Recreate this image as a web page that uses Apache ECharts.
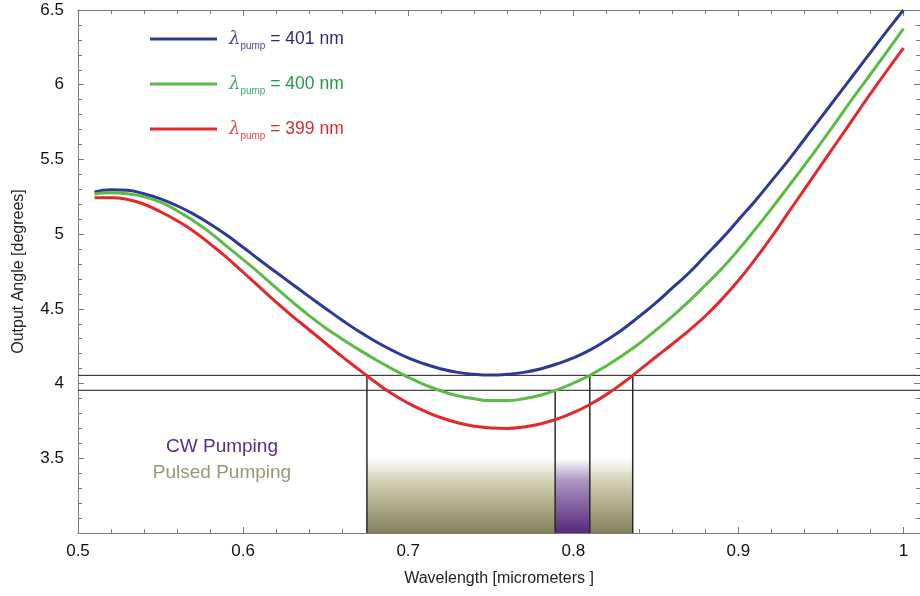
<!DOCTYPE html>
<html>
<head>
<meta charset="utf-8">
<script src="https://cdn.jsdelivr.net/npm/echarts@6/dist/echarts.min.js"></script>
<style>
  html, body { margin: 0; padding: 0; background: #fff; }
  #main { width: 920px; height: 596px; }
</style>
</head>
<body>
<div id="main"></div>
<script>
// wavelength (micrometers)
const wavelength = [0.51, 0.52, 0.53, 0.54, 0.55, 0.56, 0.57, 0.58, 0.59, 0.60,
  0.61, 0.62, 0.63, 0.64, 0.65, 0.66, 0.67, 0.68, 0.69, 0.70,
  0.71, 0.72, 0.73, 0.74, 0.75, 0.76, 0.77, 0.78, 0.79, 0.80,
  0.81, 0.82, 0.83, 0.84, 0.85, 0.86, 0.87, 0.88, 0.89, 0.90,
  0.91, 0.92, 0.93, 0.94, 0.95, 0.96, 0.97, 0.98, 0.99, 1.00];

// output angle (degrees) for each pump wavelength
const pump401 = [5.283, 5.297, 5.293, 5.270, 5.236, 5.190, 5.134, 5.068, 4.994, 4.912,
  4.827, 4.745, 4.663, 4.582, 4.502, 4.424, 4.350, 4.283, 4.224, 4.172,
  4.131, 4.098, 4.075, 4.062, 4.057, 4.062, 4.075, 4.098, 4.131, 4.172,
  4.224, 4.290, 4.364, 4.450, 4.540, 4.640, 4.740, 4.855, 4.970, 5.095,
  5.220, 5.355, 5.490, 5.635, 5.780, 5.925, 6.070, 6.215, 6.360, 6.500];
const pump400 = [5.268, 5.277, 5.270, 5.250, 5.214, 5.157, 5.088, 5.010, 4.920, 4.830,
  4.738, 4.640, 4.545, 4.455, 4.372, 4.298, 4.228, 4.162, 4.100, 4.042,
  3.992, 3.950, 3.918, 3.898, 3.886, 3.886, 3.898, 3.922, 3.958, 4.003,
  4.055, 4.118, 4.190, 4.268, 4.357, 4.450, 4.550, 4.658, 4.770, 4.895,
  5.030, 5.170, 5.315, 5.460, 5.610, 5.765, 5.920, 6.070, 6.222, 6.375];
const pump399 = [5.244, 5.244, 5.232, 5.200, 5.150, 5.090, 5.020, 4.935, 4.845, 4.745,
  4.645, 4.545, 4.450, 4.360, 4.270, 4.180, 4.095, 4.010, 3.933, 3.869,
  3.815, 3.771, 3.738, 3.715, 3.703, 3.700, 3.710, 3.730, 3.762, 3.805,
  3.860, 3.926, 4.004, 4.090, 4.178, 4.265, 4.355, 4.452, 4.565, 4.690,
  4.830, 4.980, 5.140, 5.300, 5.460, 5.620, 5.780, 5.940, 6.095, 6.245];

const seriesNames = ['401 nm', '400 nm', '399 nm'];

// tolerance levels and the wavelengths where the curves cross them
const levels = [4.055, 3.955];
const cutX = [0.675, 0.789, 0.81, 0.836];
const cutTop = [4.055, 3.955, 4.055, 4.055];

// pumping bands
const pulsedBand = [0.675, 0.836];
const cwBand = [0.789, 0.81];
const bandTop = 3.5;

const xMin = 0.5, xMax = 1.01, yMin = 3, yMax = 6.5;

const pairs = (ys) => wavelength.map((x, i) => [x, ys[i]]);

var myChart = echarts.init(document.getElementById('main'));

const font = 'Liberation Sans, Arial, sans-serif';
const axisGray = '#7a7a7a';

function frameAxis(extra) {
  return Object.assign({
    type: 'value',
    axisLine: { show: true, onZero: false, lineStyle: { color: axisGray, width: 1 } },
    axisTick: { show: true, inside: true, length: 6, lineStyle: { color: axisGray } },
    minorTick: { show: true, splitNumber: 5, length: 4, lineStyle: { color: axisGray } },
    splitLine: { show: false },
    minorSplitLine: { show: false }
  }, extra);
}

const lineStyle = (c) => ({ type: 'line', smooth: true, showSymbol: false, symbol: 'none',
  lineStyle: { color: c, width: 3 }, itemStyle: { color: c }, z: 5 });

const legendColors = ['#2b2a7c', '#1c9c48', '#e0282d'];

var option = {
  animation: false,
  backgroundColor: '#fff',
  grid: { left: 78, right: 0, top: 10, bottom: 63 },
  textStyle: { fontFamily: font },
  xAxis: [
    frameAxis({
      min: xMin, max: xMax, interval: 0.1, position: 'bottom',
      name: 'Wavelength [micrometers ]', nameLocation: 'middle', nameGap: 38,
      nameTextStyle: { fontSize: 16, color: '#222', fontFamily: font },
      axisLabel: { fontSize: 17, color: '#111', margin: 10, showMaxLabel: false, fontFamily: font }
    }),
    frameAxis({ min: xMin, max: xMax, interval: 0.1, position: 'top', axisLabel: { show: false } })
  ],
  yAxis: [
    frameAxis({
      min: yMin, max: yMax, interval: 0.5, position: 'left',
      name: 'Output Angle [degrees]', nameLocation: 'middle', nameGap: 51,
      nameTextStyle: { fontSize: 16, color: '#222', fontFamily: font },
      axisLabel: { fontSize: 17, color: '#111', margin: 14, showMinLabel: false, fontFamily: font }
    }),
    frameAxis({ min: yMin, max: yMax, interval: 0.5, position: 'right', axisLabel: { show: false } })
  ],
  legend: {
    left: 145, top: 25, orient: 'vertical', icon: 'rect',
    itemWidth: 67, itemHeight: 3, itemGap: 24,
    data: seriesNames.map((n, i) => ({ name: n, textStyle: { color: legendColors[i] } })),
    formatter: (name) => '{l|λ}{s|pump}{t| = ' + name + '}',
    textStyle: {
      fontFamily: font,
      rich: {
        l: { fontSize: 18, fontStyle: 'italic', fontFamily: 'DejaVu Serif', padding: [0, 0, 0, 7], lineHeight: 24, opacity: 0.85 },
        s: { fontSize: 10, verticalAlign: 'bottom', lineHeight: 14, fontFamily: font, opacity: 0.85 },
        t: { fontSize: 17.5, lineHeight: 24, fontFamily: font }
      }
    }
  },
  graphic: [
    { type: 'text', x: 222, y: 447, style: { text: 'CW Pumping', fill: '#5a2d82', font: '19px ' + font, textAlign: 'center', textVerticalAlign: 'middle' } },
    { type: 'text', x: 222, y: 473, style: { text: 'Pulsed Pumping', fill: '#9a9872', font: '19px ' + font, textAlign: 'center', textVerticalAlign: 'middle' } }
  ],
  series: [
    {
      type: 'line', name: 'bands', data: [], silent: true,
      markArea: {
        silent: true,
        data: [
          [{ coord: [pulsedBand[0], yMin], itemStyle: { color: new echarts.graphic.LinearGradient(0, 0, 0, 1, [
              { offset: 0, color: 'rgba(255,255,255,1)' },
              { offset: 0.3, color: '#d3d1b6' },
              { offset: 1, color: '#84815c' }]) } },
           { coord: [pulsedBand[1], bandTop] }],
          [{ coord: [cwBand[0], yMin], itemStyle: { color: new echarts.graphic.LinearGradient(0, 0, 0, 1, [
              { offset: 0, color: 'rgba(255,255,255,1)' },
              { offset: 0.3, color: '#ab96c2' },
              { offset: 1, color: '#58287c' }]) } },
           { coord: [cwBand[1], bandTop] }]
        ]
      }
    },
    ...levels.map((lv) => ({
      type: 'line', data: [[xMin, lv], [xMax, lv]], showSymbol: false, symbol: 'none', silent: true,
      lineStyle: { color: '#1a1a1a', width: 1 }, z: 3
    })),
    ...cutX.map((x, i) => ({
      type: 'line', data: [[x, yMin], [x, cutTop[i]]], showSymbol: false, symbol: 'none', silent: true,
      lineStyle: { color: '#2a2a2a', width: 1.5 }, z: 4
    })),
    Object.assign(lineStyle('#2c3a94'), { name: seriesNames[0], data: pairs(pump401) }),
    Object.assign(lineStyle('#5cbb46'), { name: seriesNames[1], data: pairs(pump400) }),
    Object.assign(lineStyle('#e3272c'), { name: seriesNames[2], data: pairs(pump399) })
  ]
};
myChart.setOption(option);
</script>
</body>
</html>
